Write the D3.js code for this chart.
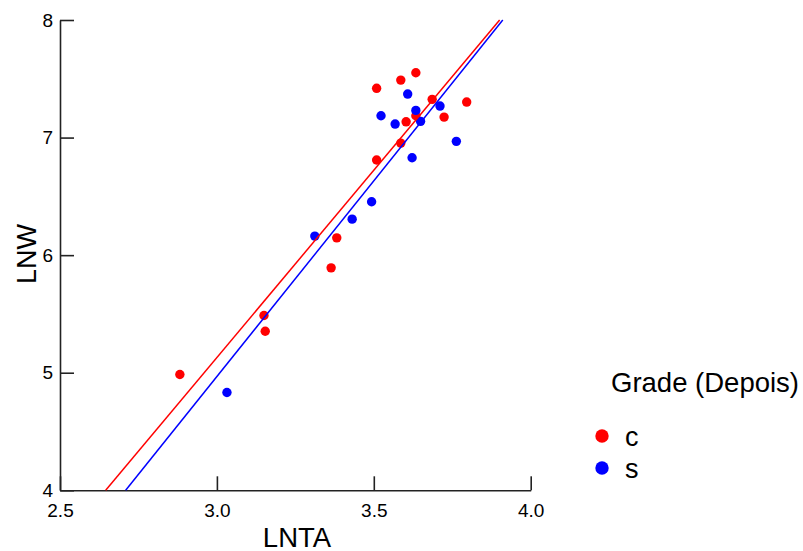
<!DOCTYPE html>
<html>
<head>
<meta charset="utf-8">
<script src="https://cdn.jsdelivr.net/npm/d3@7"></script>
<style>
  body { margin: 0; background: #fff; }
  text { font-family: "Liberation Sans", Arial, sans-serif; }
</style>
</head>
<body>
<div id="chart"></div>
<script>
// grade c points
let cLnta = [2.882, 3.150, 3.154, 3.364, 3.382, 3.509, 3.586, 3.603, 3.634, 3.509, 3.586, 3.634, 3.686, 3.724, 3.796];
let cLnw  = [4.985, 5.487, 5.353, 5.892, 6.147, 6.809, 6.953, 7.134, 7.186, 7.419, 7.489, 7.551, 7.325, 7.174, 7.302];
// grade s points
let sLnta = [3.032, 3.312, 3.431, 3.493, 3.523, 3.568, 3.608, 3.634, 3.649, 3.622, 3.711, 3.763];
let sLnw  = [4.832, 6.162, 6.306, 6.454, 7.186, 7.115, 7.370, 7.231, 7.138, 6.828, 7.268, 6.968];
// fit lines (ends at y = 4 and y = 8)
let cFitX = [2.6456, 3.901];
let sFitX = [2.7093, 3.911];
let fitY = [4, 8];

let xTicks = [2.5, 3.0, 3.5, 4.0];
let yTicks = [4, 5, 6, 7, 8];
let groups = ["c", "s"];
let colors = ["#ff0000", "#0000ff"];

let svgWidth = 803, svgHeight = 551;
let margin = { top: 20, left: 60 };
let width = 470.7, height = 470.3;

let svg = d3.select("#chart").append("svg")
  .attr("width", svgWidth)
  .attr("height", svgHeight);

let chartGroup = svg.append("g")
  .attr("transform", `translate(${margin.left}, ${margin.top})`);

let x = d3.scaleLinear().domain([2.5, 4.0]).range([0, width]);
let y = d3.scaleLinear().domain([4, 8]).range([height, 0]);

// axes, ticks pointing inward
let bottomAxis = d3.axisBottom(x).tickValues(xTicks).tickFormat(d3.format(".1f"))
  .tickSizeInner(-14).tickSizeOuter(0).tickPadding(13);
let leftAxis = d3.axisLeft(y).tickValues(yTicks).tickFormat(d3.format("d"))
  .tickSizeInner(-14).tickSizeOuter(0).tickPadding(7);

let xAxis = chartGroup.append("g")
  .attr("transform", `translate(0, ${height})`)
  .call(bottomAxis);
let yAxis = chartGroup.append("g").call(leftAxis);

[xAxis, yAxis].forEach(function(ax) {
  ax.select(".domain").attr("stroke", "#222").attr("stroke-width", 1.6);
  ax.selectAll(".tick line").attr("stroke", "#222").attr("stroke-width", 1.6);
  ax.selectAll(".tick text")
    .attr("font-size", "19px")
    .attr("font-family", "Liberation Sans, Arial, sans-serif")
    .attr("fill", "#000");
});

// points
let series = [
  { name: "c", xs: cLnta, ys: cLnw, color: colors[0] },
  { name: "s", xs: sLnta, ys: sLnw, color: colors[1] }
];
series.forEach(function(s) {
  chartGroup.selectAll(null)
    .data(s.xs.map((v, i) => [v, s.ys[i]]))
    .enter()
    .append("circle")
    .attr("cx", d => x(d[0]))
    .attr("cy", d => y(d[1]))
    .attr("r", 4.7)
    .attr("fill", s.color);
});

// fit lines
let fits = [
  { xs: cFitX, color: colors[0] },
  { xs: sFitX, color: colors[1] }
];
fits.forEach(function(f) {
  chartGroup.append("line")
    .attr("x1", x(f.xs[0])).attr("y1", y(fitY[0]))
    .attr("x2", x(f.xs[1])).attr("y2", y(fitY[1]))
    .attr("stroke", f.color)
    .attr("stroke-width", 1.5);
});

// axis labels
svg.append("text")
  .attr("x", 297)
  .attr("y", 547)
  .attr("text-anchor", "middle")
  .attr("font-size", "27.5px")
  .text("LNTA");

svg.append("text")
  .attr("transform", "translate(36, 254) rotate(-90)")
  .attr("text-anchor", "middle")
  .attr("font-size", "27px")
  .text("LNW");

// legend
svg.append("text")
  .attr("x", 611)
  .attr("y", 392)
  .attr("font-size", "27.5px")
  .text("Grade (Depois)");

let legendY = [436, 468];
groups.forEach(function(g, i) {
  svg.append("circle")
    .attr("cx", 602)
    .attr("cy", legendY[i])
    .attr("r", 6.7)
    .attr("fill", colors[i]);
  svg.append("text")
    .attr("x", 625)
    .attr("y", legendY[i] + 10)
    .attr("font-size", "27px")
    .text(g);
});
</script>
</body>
</html>
